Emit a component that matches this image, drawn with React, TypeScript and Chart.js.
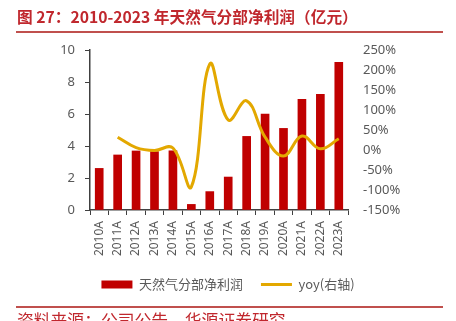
import React, { useEffect, useRef } from "react";
import { Chart, registerables } from "chart.js";

Chart.register(...registerables);

const categories = ["2010A","2011A","2012A","2013A","2014A","2015A","2016A","2017A","2018A","2019A","2020A","2021A","2022A","2023A"];
const profit = [2.6, 3.44, 3.69, 3.65, 3.7, 0.35, 1.15, 2.06, 4.6, 6.0, 5.1, 6.92, 7.23, 9.23];
const yoy = [null, 32, 6, -1, 5, -92, 215, 75, 123, 32, -15, 35, 3, 28];
const leftTicks = { min: 0, max: 10, step: 2 };
const rightTicks = { min: -150, max: 250, step: 50 };

const RED = "#C00000";
const GOLD = "#E3A800";
const TXT = "#595959";
const FONT = "'Noto Sans', 'Noto Sans CJK SC', sans-serif";

export default function App() {
  const ref = useRef<HTMLCanvasElement | null>(null);
  useEffect(() => {
    document.body.style.margin = "0";
    const ctx = ref.current!;
    const chart = new Chart(ctx, {
      data: {
        labels: categories,
        datasets: [
          {
            type: "line",
            label: "yoy(右轴)",
            data: yoy,
            yAxisID: "y1",
            borderColor: GOLD,
            backgroundColor: GOLD,
            borderWidth: 3,
            pointRadius: 0,
            tension: 0.4,
            order: 0,
          },
          {
            type: "bar",
            label: "天然气分部净利润",
            data: profit,
            yAxisID: "y",
            backgroundColor: RED,
            barThickness: 8,
            order: 1,
          },
        ],
      },
      options: {
        animation: false,
        responsive: false,
        layout: { padding: { top: 50, bottom: 20, left: 0, right: 0 } },
        plugins: {
          tooltip: { enabled: false },
          legend: {
            position: "bottom",
            labels: {
              usePointStyle: true,
              pointStyleWidth: 31,
              boxHeight: 8,
              padding: 18,
              color: TXT,
              font: { size: 13, family: "'Noto Sans CJK SC', sans-serif" },
              generateLabels: (c: any) => {
                return [
                  {
                    text: "天然气分部净利润",
                    fillStyle: RED,
                    strokeStyle: RED,
                    lineWidth: 0,
                    pointStyle: "rect",
                    datasetIndex: 1,
                    hidden: false,
                    fontColor: TXT,
                  },
                  {
                    text: "yoy(右轴)",
                    fillStyle: GOLD,
                    strokeStyle: GOLD,
                    lineWidth: 3,
                    pointStyle: "line",
                    datasetIndex: 0,
                    hidden: false,
                    fontColor: TXT,
                  },
                ];
              },
            },
          },
        },
        scales: {
          x: {
            offset: true,
            grid: {
              display: true,
              offset: true,
              drawOnChartArea: false,
              tickLength: 5,
              color: "#404040",
            },
            border: { display: true, color: "#404040", width: 1.5 },
            ticks: {
              minRotation: 90,
              maxRotation: 90,
              padding: 6,
              color: TXT,
              font: { size: 12, family: FONT },
            },
            afterFit: (s: any) => {
              s.height = 50;
            },
          },
          y: {
            position: "left",
            min: leftTicks.min,
            max: leftTicks.max,
            ticks: {
              stepSize: leftTicks.step,
              padding: 10,
              color: TXT,
              font: { size: 13, family: FONT },
            },
            grid: { display: true, drawOnChartArea: false, tickLength: 5, color: "#404040" },
            border: { display: true, color: "#404040", width: 1.5 },
            afterFit: (s: any) => {
              s.width = 90;
            },
          },
          y1: {
            position: "right",
            min: rightTicks.min,
            max: rightTicks.max,
            ticks: {
              stepSize: rightTicks.step,
              padding: 15,
              color: TXT,
              font: { size: 13, family: FONT },
              callback: (v: any) => v + "%",
            },
            grid: { display: false, drawTicks: false },
            border: { display: false },
            afterFit: (s: any) => {
              s.width = 108;
            },
          },
        },
      },
    });
    return () => chart.destroy();
  }, []);

  return (
    <div style={{ position: "relative", width: 456, height: 321, background: "#fff", overflow: "hidden" }}>
      <canvas ref={ref} width={456} height={321} style={{ position: "absolute", left: 0, top: 0 }} />
      <div
        style={{
          position: "absolute",
          left: 17,
          top: 7,
          fontFamily: "'Noto Sans CJK SC', sans-serif",
          fontWeight: "bold",
          fontSize: 15.7,
          lineHeight: "20px",
          color: "#C0272D",
          whiteSpace: "nowrap",
        }}
      >
        图 27：2010-2023 年天然气分部净利润（亿元）
      </div>
      <div style={{ position: "absolute", left: 16, top: 31, width: 427, height: 2, background: "#C0504D" }} />
      <div style={{ position: "absolute", left: 16, top: 306, width: 427, height: 1.5, background: "#C0504D" }} />
      <div
        style={{
          position: "absolute",
          left: 17,
          top: 311,
          fontFamily: "'Noto Sans CJK SC', sans-serif",
          fontSize: 16.8,
          lineHeight: "18px",
          color: "#C0272D",
          whiteSpace: "nowrap",
        }}
      >
        资料来源：公司公告，华源证券研究
      </div>
    </div>
  );
}
